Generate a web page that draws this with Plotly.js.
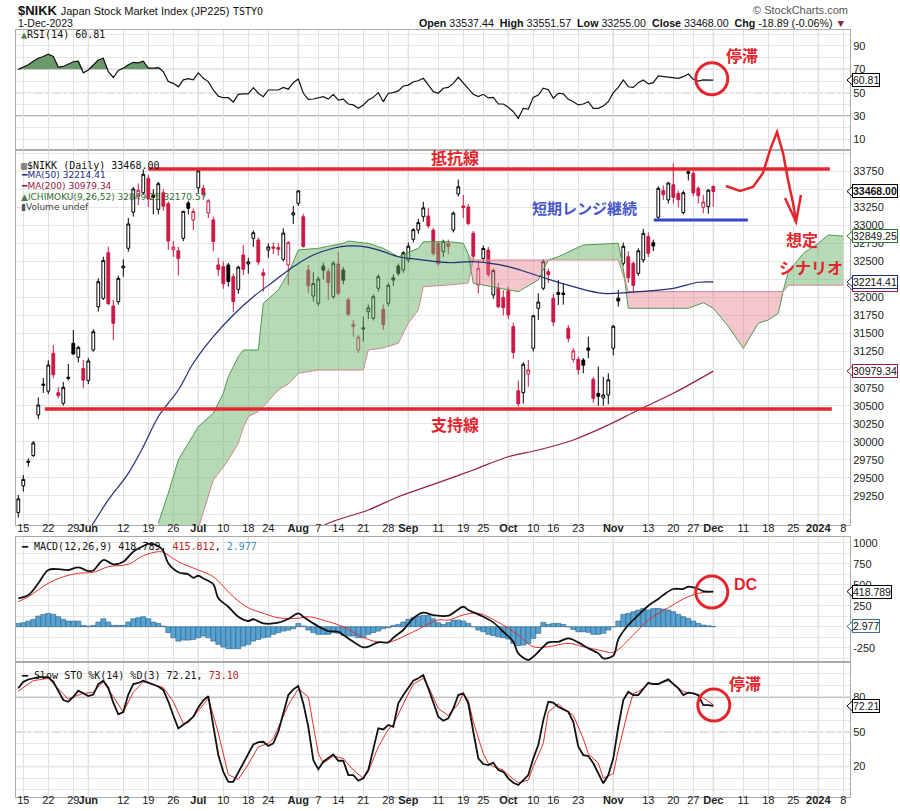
<!DOCTYPE html>
<html><head><meta charset="utf-8">
<script src="https://cdn.plot.ly/plotly-3.0.1.min.js"></script>
<style>body{margin:0;background:#fff}#chart{width:900px;height:811px}</style>
</head><body><div id="chart"></div>
<script>
// ================= DATA =================
const HOLIDAYS = ['2023-07-17','2023-08-11','2023-09-18','2023-10-09','2023-11-03','2023-11-23'];

const open = [29020,29390,29715,29810,30372,30800,30700,31226,30681,30534,30895,31365,31171,31015,30850,31272,31872,31988,32620,31881,
31941,32410,32681,33180,33400,33450,33650,33420,33220,33450,33300,32660,32647,32819,33308,33072,33517,33511,33170,33073,
32450,32426,32450,32287,32113,32588,32463,32819,32796,32342,32657,32700,32690,32528,32450,33142,33304,33118,32380,32020,
31919,32435,32357,32010,32463,32380,31965,31595,31272,31580,31803,31711,32127,31836,31919,32270,32435,32380,32519,32805,
32934,33118,33128,32934,32749,32634,32749,32934,33433,33267,33253,32888,32172,32542,32657,32034,32127,32000,32093,31595,
30708,30681,30940,31296,31850,32127,32357,31988,32070,32060,31573,31143,31143,31133,31300,30866,30670,30607,30649,31296,
31990,32472,32564,32472,32334,32519,32842,32758,33110,33480,33350,33560,33440,33175,33740,33719,33511,33248,33257,33537.44];
const high = [29264,29541,29772,30010,30617,30884,31130,31341,30760,30830,31078,31549,31330,31133,31160,31560,32265,32564,32703,31965,
32300,32528,33100,33530,33580,33772,33700,33500,33600,33500,33330,32780,32700,33200,33340,33230,33762,33560,33360,33120,
32550,32500,32480,32330,32440,32726,32550,32930,32830,32400,32750,32760,32750,32957,32780,33267,33488,33160,32450,32350,
32290,32480,32400,32500,32634,32420,32000,31687,31480,31734,31900,32040,32320,31900,32200,32320,32470,32640,32760,32960,
33090,33326,33240,32960,32780,32800,32800,33190,33634,33419,33290,32920,32519,32720,32700,32400,32200,32100,32150,31650,
30850,31100,31133,31760,32057,32530,32400,32050,32242,32200,31620,31300,31180,31160,31456,30900,31042,30900,30949,31620,
32103,32760,32640,32500,32680,32950,32900,32800,33540,33550,33600,33857,33480,33480,33790,33760,33540,33420,33500,33551.57];
const low = [28950,29310,29656,29790,30312,30676,30660,30880,30600,30500,30850,31203,31100,30742,30800,31250,31803,31965,31896,31411,
31900,32287,32634,33120,33280,33420,33250,33150,33150,33200,32660,32560,32306,32780,33150,32934,33450,33380,33100,32640,
32300,32120,32150,31800,32050,32311,32330,32700,32450,32080,32550,32600,32580,32500,32172,33018,33267,32690,32060,31941,
31880,32250,31965,31980,32030,32180,31740,31456,31230,31387,31700,31680,32080,31549,31880,32160,32300,32340,32480,32760,
32880,33050,32960,32580,32440,32560,32600,32900,33400,33100,33000,32520,32057,32480,32280,31980,31850,31750,31700,31150,
30487,30530,30763,31250,31690,32100,32200,31600,31896,31900,31380,31100,30930,30950,31157,30540,30500,30500,30520,31200,
31873,32440,32200,32057,32300,32480,32560,32640,33080,33350,33300,33300,33250,33150,33620,33400,33300,33165,33160,33255];
const close = [29210,29480,29730,29985,30510,30785,31064,30930,30640,30755,30880,31217,31309,30856,31120,31525,32218,32510,31913,31641,
32265,32434,33018,33502,33485,33706,33370,33388,33575,33264,32781,32698,32538,33193,33234,33189,33753,33422,33338,32773,
32388,32189,32220,31943,32419,32391,32493,32896,32490,32304,32700,32682,32668,32891,32759,33172,33476,32707,32159,32192,
32254,32377,32204,32473,32059,32238,31766,31626,31450,31565,31856,32010,32287,31624,32169,32240,32333,32619,32710,32939,
33036,33241,32991,32606,32467,32776,32706,33168,33533,33242,33023,32571,32402,32678,32315,32371,31872,31857,31759,31237,
30526,31075,30994,31746,31936,32494,32315,31659,32040,32042,31430,31259,30999,31062,31269,30602,30630,30649,30858,31601,
31950,32708,32272,32166,32646,32888,32611,32712,33511,33424,33585,33388,33354,33451,33720,33447,33408,33321,33486,33468];

const ma50At  = [13,15,18,22,25,28,32,35,39,43,47,51,55,59,63,66,70,73,76,80,86,91,98,104,111,117,124,131,136,139];
const ma50Val = [28650,28872,29195,29564,29933,30348,30718,31088,31456,31757,32010,32218,32426,32588,32681,32713,32694,32634,32564,32528,32481,32495,32426,32297,32149,32057,32080,32126,32210,32214.41];
const ma200At  = [58,62,70,76,84,91,98,104,111,118,124,131,139];
const ma200Val = [28700,28872,29056,29240,29434,29610,29794,29887,30026,30233,30441,30672,30979.34];

const cloudAt = [28,30,32,34,36,39,41,42,44,45,46,48,49,52,54,56,60,65,66,68,69,70,73,76,78,80,81,86,89,90,91,100,104,106,108,113,120,121,122,134,137,139,142,145,148,150,152,153,154,157,160,162,165];
const spanA = [28872,29287,29749,29980,30210,30395,30672,30902,31179,31272,31272,31272,31919,32103,32334,32657,32680,32750,32782,32760,32755,32750,32680,32564,32620,32680,32772,32772,32750,32600,32196,32080,32242,32519,32564,32726,32750,32400,31850,31850,31927,31850,31600,31296,31642,31688,31780,32100,32350,32611,32750,32865,32849.25];
const spanB = [28000,28100,28300,28500,28800,29472,29650,29749,29980,30200,30348,30420,30487,30718,30800,30949,30995,30995,30995,30995,30995,31272,31300,31365,31642,31826,32149,32172,32190,32200,32519,32519,32519,32519,32519,32519,32519,32300,32080,32080,32080,32080,32080,32080,32080,32080,32080,32080,32170,32170,32170,32170,32170.57];

const rsi = [70,72,74,77,79.5,81,83,81,72,72.5,74.5,76.5,77,67,69.5,74,78,79.5,68,63,
69,71,74,76,75.5,77,71,71,71.5,68,59.5,58,55,61,62,61,67,62.3,59.5,52.3,
47,45.7,45.7,42,48.6,49,49,54.3,49.5,46.6,52.3,52.3,52.3,54.5,53,58.6,61.7,49.5,44.3,44.6,
45.5,46.6,44.5,48.6,43.7,44.5,40.3,39.5,36.6,39.5,43.7,46,50,42.3,49.5,50,51.5,55.7,56.5,59.4,
60.2,62.3,56.6,50.9,49.5,53.8,54.5,58,63.2,58.6,53.8,48.6,46.6,48.6,45.5,46,40.3,40.3,37.5,33.7,
28,36.6,36,46,48,53.8,52.5,45.2,49.5,49,44.3,42.3,39.5,40.3,42.3,36.6,36.6,38.6,42.3,50,
54.6,60.9,55.1,54.6,58.6,60.9,57.5,58.6,64.3,63.7,63,62.3,62.3,63.7,66,61.5,60,60.9,60.9,60.81];

const macdAt  = [0,2,4,6,8,10,12,14,15,17,19,21,23,25,26,28,29,30,32,34,35,36,37,39,40,42,44,46,47,49,52,54,56,57,59,61,62,64,65,67,69,70,72,74,75,77,79,81,83,86,89,90,93,95,97,99,100,102,103,105,106,108,110,112,114,116,117,119,120,122,124,126,128,129,131,133,134,136,137,139];
const macdVal = [338,377,517,675,685,675,707,663,670,794,743,774,893,960,985,960,901,755,648,624,583,607,575,505,338,238,119,68,89,40,48,92,160,119,40,-27,-51,-60,-99,-179,-245,-238,-186,-186,-131,-39,100,167,139,131,238,199,119,52,-60,-179,-317,-396,-357,-238,-186,-179,-138,-186,-257,-317,-376,-345,-150,20,139,250,330,377,449,449,476,449,425,418.789];
const sigAt  = [0,2,6,9,12,15,18,22,25,28,29,32,36,39,43,46,49,52,56,58,62,65,68,71,74,78,81,84,86,89,92,96,100,103,106,110,113,117,119,123,126,130,133,136,139];
const sigVal = [298,357,517,595,636,648,714,743,845,893,886,774,675,595,357,226,160,107,100,119,60,0,-99,-170,-186,-90,0,80,80,140,160,52,-99,-238,-238,-198,-238,-289,-305,-99,80,226,330,398,415.812];
const hist = [40,48,67,87,127,147,159,147,119,87,67,67,67,16,8,16,56,95,56,16,
16,16,56,95,107,119,95,56,40,8,-71,-131,-171,-159,-159,-151,-131,-111,-131,-171,
-210,-242,-262,-262,-262,-230,-210,-171,-151,-131,-123,-91,-71,-52,-40,-24,40,8,-40,-71,
-91,-91,-91,-71,-79,-103,-111,-111,-131,-131,-91,-71,-52,-24,-12,16,28,56,87,107,
127,135,135,95,48,28,50,79,79,67,40,0,-40,-60,-91,-107,-119,-131,-147,-199,
-226,-218,-199,-139,-79,52,28,40,40,28,0,-32,-60,-60,-67,-91,-91,-79,-40,0,
67,147,159,179,199,218,199,218,218,210,199,179,147,119,99,67,40,20,12,2.977];

const stoK = [87.4,93,95,96,97,97,97,93,85,77.3,75.8,80,85.3,83,80.7,82,91,94,88,75,
65,67,82,91,92,94,92.5,91,89,86,76,64,52.9,56,59,62.9,71,77,80.7,55,
30,15.5,6.9,6.9,15,24,31.4,39,41,41.4,37.7,40,50,66,81.6,86.5,89.4,74.4,54.3,25.6,
17.6,24.2,27.1,30.5,25,25,12.7,12.7,7.8,9.9,17,34.2,52.9,52,55.8,54.3,74.4,81.6,87.4,93.9,
96,98.8,87.4,75.8,62.9,59.5,61.5,70,81.6,83,74.4,50,27.1,22.2,21.3,23.3,17,15.5,9.9,6.1,
4.1,8.4,12.7,27.1,38.5,60,75.8,75,71.5,69.3,67.2,58.6,37.1,29.9,29.1,22.8,14.2,5.6,12.7,27.1,
54.3,77.3,84.5,81.6,81.6,87.4,92.2,91.1,91.1,93.1,95.1,91.1,87.4,81.6,83.6,83,81.6,73,73,72.21];
const stoDAt  = [0,3,6,10,11,13,15,17,19,21,23,25,29,31,33,34,36,38,40,42,44,46,48,50,51,54,56,58,60,61,63,65,67,69,70,72,74,75,77,79,81,82,84,86,88,89,90,91,93,94,95,97,98,100,102,103,105,106,108,109,111,113,114,116,117,119,120,122,123,124,126,128,130,131,133,135,137,139];
const stoDVal = [85,94,96,78,80,83,84,93,80,67,84,93,88,76,57,58,68,79,49,13,9,22,37,40,44,73,87,80,31,23,29,27,17,10,16,37,52,56,74,91,96,89,70,64,74,83,77,58.6,31,22.8,20,17,12.7,6,8.4,20,40,67,74,70,64,44,31,23,10,14,34,69,83,84.5,91,91.5,94,91.6,84.5,83,79,73.1];

const tickDates = ['2023-05-15','2023-05-22','2023-05-29','2023-06-01','2023-06-12','2023-06-19','2023-06-26','2023-07-03','2023-07-10','2023-07-18','2023-07-24','2023-08-01','2023-08-07','2023-08-14','2023-08-21','2023-08-28','2023-09-01','2023-09-11','2023-09-19','2023-09-25','2023-10-02','2023-10-10','2023-10-16','2023-10-23','2023-11-01','2023-11-13','2023-11-20','2023-11-27','2023-12-01','2023-12-11','2023-12-18','2023-12-25','2024-01-01','2024-01-08'];
const tickText = ['15','22','29','<b>Jun</b>','12','19','26','<b>Jul</b>','10','18','24','<b>Aug</b>','7','14','21','28','<b>Sep</b>','11','19','25','<b>Oct</b>','10','16','23','<b>Nov</b>','13','20','27','<b>Dec</b>','11','18','25','<b>2024</b>','8'];
const monthDates = ['2023-06-01','2023-07-03','2023-08-01','2023-09-01','2023-10-02','2023-11-01','2023-12-01','2024-01-01'];
const priceLabelsHidden = [33500,32250,31000]; // covered by value tags in the reference

const resistanceLevel = 33779, supportLevel = 30455, rangeLow = 33073;

// ================= BUILD =================
const days = (function(){const out=[];let t=Date.UTC(2023,4,12);const end=Date.UTC(2024,0,10);
  while(t<=end){const d=new Date(t);const wd=d.getUTCDay();const s=d.toISOString().slice(0,10);
    if(wd!==0&&wd!==6&&HOLIDAYS.indexOf(s)<0)out.push(s);t+=86400000;}return out;})();
const idx = {}; days.forEach((s,i)=>idx[s]=i);
const n = close.length;
const sess = close.map((_,i)=>i);

const W=900,H=811,ML=16,MR=50;
const pxX = x => (x-ML)/(W-ML-MR);
const pxY = y => 1-y/H;
const dom = (a,b)=>[pxY(b),pxY(a)];
const XR = [-0.46,166.34];
const RED='#cc1844', ANN='#e3262d';
const PANELS = {y:[150,525,28848,34042], y2:[30,150,0.9,103.7], y3:[537,661,-408,1068], y4:[663,797,-6.2,109.2]};
const valToPx = (ax,v)=>{const p=PANELS[ax];return p[0]+(p[3]-v)/(p[3]-p[2])*(p[1]-p[0]);};

const traces = [];
const hiAB = spanA.map((a,i)=>Math.max(a,spanB[i]));
const clear = {width:0,color:'rgba(0,0,0,0)'};
traces.push({type:'scatter',mode:'lines',x:cloudAt,y:spanB,line:clear,xaxis:'x',yaxis:'y'});
traces.push({type:'scatter',mode:'lines',x:cloudAt,y:hiAB,fill:'tonexty',fillcolor:'rgba(110,180,110,0.5)',line:clear,xaxis:'x',yaxis:'y'});
traces.push({type:'scatter',mode:'lines',x:cloudAt,y:spanA,line:clear,xaxis:'x',yaxis:'y'});
traces.push({type:'scatter',mode:'lines',x:cloudAt,y:hiAB,fill:'tonexty',fillcolor:'rgba(230,130,145,0.45)',line:clear,xaxis:'x',yaxis:'y'});
traces.push({type:'scatter',mode:'lines',x:cloudAt,y:spanA,line:{width:1,color:'#4f9a4f'},xaxis:'x',yaxis:'y'});
traces.push({type:'scatter',mode:'lines',x:cloudAt,y:spanB,line:{width:1,color:'#d68590'},xaxis:'x',yaxis:'y'});
traces.push({type:'scatter',mode:'lines',x:ma50At,y:ma50Val,line:{width:1.2,color:'#1f2d7a',shape:'spline'},xaxis:'x',yaxis:'y'});
traces.push({type:'scatter',mode:'lines',x:ma200At,y:ma200Val,line:{width:1.2,color:'#962040',shape:'spline'},xaxis:'x',yaxis:'y'});
function candles(test, lineColor, fill){
  const X=[],O=[],Hh=[],L=[],C=[];
  for(let i=0;i<n;i++){ if(test(i)){X.push(i);O.push(open[i]);Hh.push(high[i]);L.push(low[i]);C.push(close[i]);} }
  const st={line:{color:lineColor,width:1},fillcolor:fill};
  return {type:'candlestick',x:X,open:O,high:Hh,low:L,close:C,increasing:st,decreasing:st,whiskerwidth:0,hoverinfo:'skip',xaxis:'x',yaxis:'y'};
}
const up = i=>close[i]>open[i];
const rise = i=> i===0 ? true : close[i]>=close[i-1];
traces.push(candles(i=>up(i)&&rise(i),'#000','#fff'));
traces.push(candles(i=>up(i)&&!rise(i),RED,'#fff'));
traces.push(candles(i=>!up(i)&&rise(i),'#000','#000'));
traces.push(candles(i=>!up(i)&&!rise(i),RED,RED));
traces.push({type:'scatter',mode:'lines',x:sess,y:rsi.map(()=>70),line:clear,xaxis:'x2',yaxis:'y2'});
traces.push({type:'scatter',mode:'lines',x:sess,y:rsi.map(v=>Math.max(v,70)),fill:'tonexty',fillcolor:'#6a9a6a',line:clear,xaxis:'x2',yaxis:'y2'});
traces.push({type:'scatter',mode:'lines',x:sess,y:rsi,line:{width:1.2,color:'#111'},xaxis:'x2',yaxis:'y2'});
traces.push({type:'bar',x:sess,y:hist,width:1,marker:{color:'#58a2d2',line:{color:'#2b5f84',width:0.6}},xaxis:'x3',yaxis:'y3'});
traces.push({type:'scatter',mode:'lines',x:sigAt,y:sigVal,line:{width:1,color:'#e0302c',shape:'spline'},xaxis:'x3',yaxis:'y3'});
traces.push({type:'scatter',mode:'lines',x:macdAt,y:macdVal,line:{width:1.8,color:'#111',shape:'spline'},xaxis:'x3',yaxis:'y3'});
traces.push({type:'scatter',mode:'lines',x:stoDAt,y:stoDVal,line:{width:1,color:'#e0302c'},xaxis:'x4',yaxis:'y4'});
traces.push({type:'scatter',mode:'lines',x:sess,y:stoK,line:{width:1.8,color:'#111'},xaxis:'x4',yaxis:'y4'});

const tickvals = tickDates.map(d=>idx[d]);
const baseX = {range:XR,tickvals:tickvals,ticktext:tickText,tickangle:0,showgrid:true,gridcolor:'#e0e0e0',gridwidth:1,ticks:'',ticklabelstandoff:-7,showline:true,mirror:true,linecolor:'#aaa',zeroline:false,tickfont:{size:11,color:'#222'},fixedrange:true};
function yax(ax,vals,texts){const p=PANELS[ax];return {domain:dom(p[0],p[1]),range:[p[2],p[3]],side:'right',tickvals:vals,ticktext:texts,showgrid:true,gridcolor:'#e6e6e6',ticks:'',showline:true,mirror:true,linecolor:'#aaa',zeroline:false,tickfont:{size:11,color:'#222'},fixedrange:true};}
const mainVals=[],mainText=[];for(let v=28750;v<=34000;v+=250){mainVals.push(v);mainText.push(v>=29250&&v<=33750&&priceLabelsHidden.indexOf(v)<0?String(v):'');}
const rsiVals=[0,10,20,30,40,50,60,70,80,90,100], rsiText=['','10','','30','','50','','70','','90',''];
const macdVals=[-375,-250,-125,0,125,250,375,500,625,750,875,1000], macdText=['','-250','','','','250','','500','','750','','1000'];
const stoVals=[0,10,20,30,40,50,60,70,80,90,100], stoText=['','','20','','','50','','','80','',''];

const layout = {
  width:W,height:H,margin:{l:ML,r:MR,t:0,b:0},paper_bgcolor:'#fff',plot_bgcolor:'rgba(0,0,0,0)',showlegend:false,
  font:{family:'Liberation Sans, Arial, sans-serif',size:11,color:'#222'},bargap:0,boxgap:0.2,
  xaxis:Object.assign({},baseX,{anchor:'y',rangeslider:{visible:false},showticklabels:true}),
  xaxis2:Object.assign({},baseX,{anchor:'y2',showticklabels:false}),
  xaxis3:Object.assign({},baseX,{anchor:'y3',showticklabels:false}),
  xaxis4:Object.assign({},baseX,{anchor:'y4',showticklabels:true}),
  yaxis:yax('y',mainVals,mainText),
  yaxis2:yax('y2',rsiVals,rsiText),
  yaxis3:yax('y3',macdVals,macdText),
  yaxis4:yax('y4',stoVals,stoText),
  shapes:[],annotations:[]
};
const S=layout.shapes, A=layout.annotations;
[['x','y'],['x2','y2'],['x3','y3'],['x4','y4']].forEach(([xa,ya])=>{
  monthDates.forEach(d=>S.push({type:'line',xref:xa,yref:ya+' domain',x0:idx[d],x1:idx[d],y0:0,y1:1,line:{color:'#b5b5b5',width:1},layer:'below'}));
});
[[70,'solid'],[30,'solid'],[50,'dashdot']].forEach(([v,d])=>S.push({type:'line',xref:'x2 domain',yref:'y2',x0:0,x1:1,y0:v,y1:v,line:{color:'#666',width:1,dash:d},layer:'below'}));
[[80,'solid'],[20,'solid'],[50,'dashdot']].forEach(([v,d])=>S.push({type:'line',xref:'x4 domain',yref:'y4',x0:0,x1:1,y0:v,y1:v,line:{color:'#666',width:1,dash:d},layer:'below'}));
S.push({type:'line',xref:'x',yref:'y',x0:26,x1:162.3,y0:resistanceLevel,y1:resistanceLevel,line:{color:'#e0282e',width:3.5}});
S.push({type:'line',xref:'x',yref:'y',x0:5.3,x1:162.7,y0:supportLevel,y1:supportLevel,line:{color:'#e0282e',width:3.5}});
S.push({type:'line',xref:'x',yref:'y',x0:127.1,x1:145.9,y0:rangeLow,y1:rangeLow,line:{color:'#3346c8',width:3}});
function circ(xa,ya,cx,cy,rx,ry){S.push({type:'circle',xref:xa,yref:ya,x0:cx-rx,x1:cx+rx,y0:cy-ry,y1:cy+ry,line:{color:'#e3262d',width:3}});}
circ('x2','y2',138.7,61.9,3.2,13.7);
circ('x3','y3',138.7,413,3.2,190);
circ('x4','y4',139.1,73,3.2,13.8);
const arrowPx=[[726,186],[740,191],[753,187],[763,173],[770,150],[777,132],[783,153],[788,180],[793,203],[796,222]];
const headPx=[[785,198],[796,222],[801,195]];
const pth = pts => 'M '+pts.map(p=>pxX(p[0]).toFixed(4)+','+pxY(p[1]).toFixed(4)).join(' L ');
S.push({type:'path',xref:'paper',yref:'paper',path:pth(arrowPx),line:{color:'#e3262d',width:2.5}});
S.push({type:'path',xref:'paper',yref:'paper',path:pth(headPx),line:{color:'#e3262d',width:2.5}});

function ptxt(x,y,text,opt){A.push(Object.assign({xref:'paper',yref:'paper',x:pxX(x),y:pxY(y),text:text,showarrow:false,xanchor:'left',yanchor:'middle',font:{size:11,color:'#111'}},opt||{}));}
const jp = {family:'Noto Sans CJK JP, sans-serif',size:16,color:ANN};
function dtxt(xa,ya,x,y,text,font){A.push({xref:xa,yref:ya,x:x,y:y,text:'<b>'+text+'</b>',showarrow:false,xanchor:'center',yanchor:'middle',font:font});}
dtxt('x','y',87.3,33945,'抵抗線',jp);
dtxt('x','y',87.3,30247,'支持線',jp);
dtxt('x','y',113.3,33239,'短期レンジ継続',Object.assign({},jp,{color:'#4658c8',size:15}));
dtxt('x','y',144.3,34111,'MSQ？',Object.assign({},jp,{size:15}));
dtxt('x','y',156.7,32809,'想定',jp);
dtxt('x','y',158.5,32422,'シナリオ',jp);
dtxt('x2','y2',144.7,82.3,'停滞',jp);
dtxt('x3','y3',145.5,505,'DC',Object.assign({},jp,{family:'Liberation Sans, Arial'}));
dtxt('x4','y4',145.3,91.7,'停滞',jp);

ptxt(16,10,'<b>$NIKK</b> <span style="font-size:11px">Japan Stock Market Index (JP225)</span> <span style="font-family:DejaVu Sans Mono;font-size:10px">TSTYO</span>',{font:{size:13,color:'#111'}});
ptxt(16,23,'1-Dec-2023',{font:{size:10.5,color:'#111'}});
ptxt(848,23,'<b>Open</b> 33537.44  <b>High</b> 33551.57  <b>Low</b> 33255.00  <b>Close</b> 33468.00  <b>Chg</b> -18.89 (-0.06%) <span style="color:#8a2848">▼</span>',{xanchor:'right',font:{size:10.7,color:'#111'}});
ptxt(850,10,'© StockCharts.com',{xanchor:'right',font:{size:11,color:'#555'}});
const mono='DejaVu Sans Mono, monospace';
ptxt(19,35,'<span style="color:#4d7f4d">▲</span>RSI(14) 60.81',{font:{family:mono,size:10,color:'#111'}});
ptxt(19,165,'<span style="color:#333">▥</span>$NIKK (Daily) 33468.00',{font:{family:mono,size:10,color:'#111'}});
ptxt(19,175,'<span style="color:#1f2d7a">━</span>MA(50) 32214.41',{font:{family:'DejaVu Sans',size:9,color:'#1f2d7a'}});
ptxt(19,186,'<span style="color:#962040">━</span>MA(200) 30979.34',{font:{family:'DejaVu Sans',size:9,color:'#962040'}});
ptxt(19,197,'<span style="color:#4d7f4d">▲</span>ICHIMOKU(9,26,52) 32849.25 32170.57',{font:{family:'DejaVu Sans',size:9,color:'#2f6b2f'}});
ptxt(19,207,'<span style="color:#555">▮</span>Volume undef',{font:{family:'DejaVu Sans',size:9,color:'#444'}});
ptxt(19,546,'━ MACD(12,26,9) 418.789, <span style="color:#c02020">415.812</span>, <span style="color:#3b8fb0">2.977</span>',{font:{family:mono,size:10,color:'#111'}});
ptxt(19,675,'━ Slow STO %K(14) %D(3) 72.21, <span style="color:#c02020">73.10</span>',{font:{family:mono,size:10,color:'#111'}});

// value tags (box + left-pointing notch) on the right axis
function tag(ya,val,text,col,bold){
  A.push({xref:'paper',yref:ya,x:pxX(852),y:val,text:bold?'<b>'+text+'</b>':text,showarrow:false,xanchor:'left',yanchor:'middle',bgcolor:'#fff',bordercolor:col,borderwidth:1,borderpad:0,font:{size:10.5,color:'#111'}});
  const py=valToPx(ya,val);
  S.push({type:'path',xref:'paper',yref:'paper',path:pth([[852.5,py-5],[847,py],[852.5,py+5]]),fillcolor:'#fff',line:{color:col,width:1}});
}
tag('y',close[n-1],close[n-1].toFixed(2),'#000',true);
tag('y',spanB[spanB.length-1],spanB[spanB.length-1].toFixed(2),'#962040');
tag('y',spanA[spanA.length-1],spanA[spanA.length-1].toFixed(2),'#2f7a2f');
tag('y',ma50Val[ma50Val.length-1],ma50Val[ma50Val.length-1].toFixed(2),'#1f2d7a');
tag('y',ma200Val[ma200Val.length-1],ma200Val[ma200Val.length-1].toFixed(2),'#962040');
tag('y2',rsi[n-1],rsi[n-1].toFixed(2),'#000');
tag('y3',macdVal[macdVal.length-1],macdVal[macdVal.length-1].toFixed(3),'#000');
tag('y3',hist[n-1],hist[n-1].toFixed(3),'#3b6f90');
tag('y4',stoK[n-1],stoK[n-1].toFixed(2),'#000');

Plotly.newPlot('chart',traces,layout,{staticPlot:true,displayModeBar:false});
</script></body></html>
